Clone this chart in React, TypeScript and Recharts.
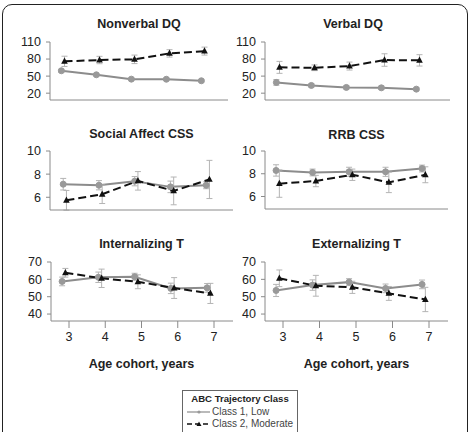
import React from 'react';
import { ComposedChart, Line, XAxis, YAxis, ErrorBar } from 'recharts';

const FONT = '"Liberation Sans", Arial, Helvetica, sans-serif';

// ---------- data ----------
const ages = [3, 4, 5, 6, 7];

const nonverbalLow = [59.4, 52.3, 44.7, 44.5, 41.8];
const nonverbalLowErr = [2.5, 2, 2, 2, 2];
const nonverbalMod = [76, 78.3, 79.5, 90, 94];
const nonverbalModErr = [9, 6.5, 7.5, 6.5, 7];

const verbalLow = [38.9, 33.6, 30.1, 29.4, 27.1];
const verbalLowErr = [5, 3, 3, 3, 2.5];
const verbalMod = [65.4, 64.7, 67.7, 78.3, 77.7];
const verbalModErr = [10.5, 5, 7, 11, 10];

const socialLow = [7.13, 7.04, 7.39, 6.9, 7.04];
const socialLowErr = [0.5, 0.4, 0.4, 0.5, 0.3];
const socialMod = [5.74, 6.26, 7.42, 6.55, 7.54];
const socialModErr = [0.85, 0.8, 0.8, 1.2, 1.65];

const rrbLow = [8.29, 8.11, 8.17, 8.17, 8.46];
const rrbLowErr = [0.5, 0.3, 0.4, 0.4, 0.3];
const rrbMod = [7.13, 7.36, 7.91, 7.24, 7.91];
const rrbModErr = [1.2, 0.5, 0.5, 0.9, 0.7];

const internLow = [58.8, 61.2, 61.5, 54.8, 55.1];
const internLowErr = [2.5, 3, 2, 3, 2.5];
const internMod = [63.8, 60.6, 58.6, 55, 51.9];
const internModErr = [2.5, 5.3, 4, 6, 5.8];

const externLow = [53.6, 56.7, 58.4, 54.8, 57.1];
const externLowErr = [3.5, 3, 2, 2.5, 2.5];
const externMod = [60.6, 56.3, 55.4, 51.9, 48.4];
const externModErr = [4.8, 6, 3.5, 4, 7];

const dqTicks = [20, 50, 80, 110];
const cssTicks = [6, 8, 10];
const tTicks = [40, 50, 60, 70];

const titles = ['Nonverbal DQ', 'Verbal DQ', 'Social Affect CSS', 'RRB CSS', 'Internalizing T', 'Externalizing T'];
const xTitle = 'Age cohort, years';
const legendTitle = 'ABC Trajectory Class';
const legendLow = 'Class 1, Low';
const legendMod = 'Class 2, Moderate';

// ---------- styling / layout ----------
const LOW_COLOR = '#8c8c8c';
const MOD_COLOR = '#111111';
const ERR_COLOR = '#b4b4b4';
const AXIS_COLOR = '#8a8a8a';
const TEXT_COLOR = '#222222';
const LOW_SHIFT = 0.19;
const MOD_SHIFT = 0.1;

type PanelDef = {
  title: string;
  low: number[]; lowErr: number[]; mod: number[]; modErr: number[];
  yDomain: [number, number]; yTicks: number[];
  axisX: number; t3: number; t7: number; endX: number; top: number; bottom: number;
  titleX: number; titleY: number; showXLabels: boolean;
};

const panels: PanelDef[] = [
  { title: titles[0], low: nonverbalLow, lowErr: nonverbalLowErr, mod: nonverbalMod, modErr: nonverbalModErr,
    yDomain: [8, 110], yTicks: dqTicks, axisX: 50, t3: 68, t7: 208, endX: 228, top: 42, bottom: 100,
    titleX: 139, titleY: 24, showXLabels: false },
  { title: titles[1], low: verbalLow, lowErr: verbalLowErr, mod: verbalMod, modErr: verbalModErr,
    yDomain: [8, 110], yTicks: dqTicks, axisX: 265, t3: 283, t7: 423, endX: 450, top: 42, bottom: 100,
    titleX: 353, titleY: 24, showXLabels: false },
  { title: titles[2], low: socialLow, lowErr: socialLowErr, mod: socialMod, modErr: socialModErr,
    yDomain: [4.9, 10], yTicks: cssTicks, axisX: 50, t3: 70, t7: 213, endX: 233, top: 151, bottom: 210,
    titleX: 141.5, titleY: 134, showXLabels: false },
  { title: titles[3], low: rrbLow, lowErr: rrbLowErr, mod: rrbMod, modErr: rrbModErr,
    yDomain: [4.9, 10], yTicks: cssTicks, axisX: 265, t3: 283, t7: 429, endX: 448, top: 151, bottom: 209,
    titleX: 356.5, titleY: 135, showXLabels: false },
  { title: titles[4], low: internLow, lowErr: internLowErr, mod: internMod, modErr: internModErr,
    yDomain: [36, 70], yTicks: tTicks, axisX: 51, t3: 69, t7: 214, endX: 233, top: 262, bottom: 321,
    titleX: 141.5, titleY: 244, showXLabels: true },
  { title: titles[5], low: externLow, lowErr: externLowErr, mod: externMod, modErr: externModErr,
    yDomain: [36, 70], yTicks: tTicks, axisX: 265, t3: 283, t7: 429, endX: 448, top: 262, bottom: 321,
    titleX: 356.5, titleY: 244, showXLabels: true },
];

const Triangle = (props: any) => {
  const { cx, cy, index } = props;
  if (cx == null || cy == null) return <g key={`t${index}`} />;
  return (
    <polygon
      key={`t${index}`}
      points={`${cx},${cy - 3.8} ${cx - 3.3},${cy + 2.4} ${cx + 3.3},${cy + 2.4}`}
      fill={MOD_COLOR}
    />
  );
};

function Panel({ p }: { p: PanelDef }) {
  const s = (p.t7 - p.t3) / 4;
  const xMin = 3 - (p.t3 - p.axisX) / s;
  const xMax = 7 + (p.endX - p.t7) / s;
  const YW = 45, MT = 8, MR = 6, XH = 30;
  const width = YW + (p.endX - p.axisX) + MR;
  const height = MT + (p.bottom - p.top) + XH;
  const rows = ages.map((age, i) => ({
    age, low: p.low[i], lowErr: p.lowErr[i], mod: p.mod[i], modErr: p.modErr[i],
  }));
  const tickStyle = { fill: TEXT_COLOR, fontSize: 12.5, fontFamily: FONT };
  return (
    <>
      <div style={{ position: 'absolute', left: p.axisX - YW, top: p.top - MT }}>
        <ComposedChart width={width} height={height} data={rows}
          margin={{ top: MT, right: MR, left: 0, bottom: 0 }}>
          <XAxis xAxisId="a_main" dataKey="age" type="number" domain={[xMin, xMax]} ticks={ages}
            allowDataOverflow interval={0} tickSize={7} tickMargin={4} height={XH}
            stroke={AXIS_COLOR} tick={p.showXLabels ? tickStyle : false} />
          <XAxis xAxisId="b_low" orientation="top" height={0} dataKey="age" type="number"
            domain={[xMin + LOW_SHIFT, xMax + LOW_SHIFT]} allowDataOverflow hide />
          <XAxis xAxisId="c_mod" orientation="top" height={0} dataKey="age" type="number"
            domain={[xMin + MOD_SHIFT, xMax + MOD_SHIFT]} allowDataOverflow hide />
          <YAxis type="number" domain={p.yDomain} ticks={p.yTicks} allowDataOverflow interval={0}
            width={YW} tickSize={4} tickMargin={5} stroke={AXIS_COLOR} tick={tickStyle} />
          <Line xAxisId="b_low" dataKey="low" stroke={LOW_COLOR} strokeWidth={2}
            dot={{ r: 3, fill: '#999999', stroke: '#999999', strokeWidth: 1 }} activeDot={false}
            isAnimationActive={false}>
            <ErrorBar dataKey="lowErr" direction="y" width={3} stroke={ERR_COLOR} strokeWidth={1} />
          </Line>
          <Line xAxisId="c_mod" dataKey="mod" stroke={MOD_COLOR} strokeWidth={2} strokeDasharray="8 4"
            dot={Triangle} activeDot={false} isAnimationActive={false}>
            <ErrorBar dataKey="modErr" direction="y" width={3} stroke={ERR_COLOR} strokeWidth={1} />
          </Line>
        </ComposedChart>
      </div>
      <div style={{
        position: 'absolute', left: p.titleX, top: p.titleY - 7, transform: 'translateX(-50%)',
        fontSize: 12.5, fontWeight: 'bold', lineHeight: '14px', color: TEXT_COLOR, whiteSpace: 'nowrap',
      }}>{p.title}</div>
    </>
  );
}

export default function App() {
  return (
    <div style={{
      position: 'absolute', left: 0, top: 0, width: 469, height: 432, overflow: 'hidden',
      background: '#ffffff', fontFamily: FONT,
    }}>
      <div style={{
        position: 'absolute', left: 2, top: 4, width: 466, height: 450, boxSizing: 'border-box',
        border: '1.5px solid #222', borderRadius: 10,
      }} />
      {panels.map((p) => <Panel key={p.title} p={p} />)}
      {[141.5, 356.5].map((cx) => (
        <div key={cx} style={{
          position: 'absolute', left: cx, top: 356, transform: 'translateX(-50%)', fontSize: 12.5,
          fontWeight: 'bold', lineHeight: '16px', color: TEXT_COLOR, whiteSpace: 'nowrap',
        }}>{xTitle}</div>
      ))}
      <div style={{
        position: 'absolute', left: 182, top: 390, width: 116, height: 50, boxSizing: 'border-box',
        border: '1px solid #666', background: '#fff',
      }}>
        <div style={{
          position: 'absolute', left: 0, width: 114, top: 2, textAlign: 'center', fontSize: 9.6,
          fontWeight: 'bold', lineHeight: '12px', color: TEXT_COLOR, whiteSpace: 'nowrap',
        }}>{legendTitle}</div>
        <svg style={{ position: 'absolute', left: 4, top: 15 }} width={24} height={12}>
          <line x1={0} y1={6} x2={23} y2={6} stroke={LOW_COLOR} strokeWidth={1.2} />
          <circle cx={12} cy={6} r={1.6} fill="#999" />
        </svg>
        <div style={{
          position: 'absolute', left: 29, top: 15, fontSize: 10, lineHeight: '12px', color: '#444',
          whiteSpace: 'nowrap',
        }}>{legendLow}</div>
        <svg style={{ position: 'absolute', left: 4, top: 27 }} width={24} height={12}>
          <line x1={0} y1={6} x2={23} y2={6} stroke={MOD_COLOR} strokeWidth={1.4} strokeDasharray="5 3" />
          <polygon points="12,3.5 9.5,8 14.5,8" fill={MOD_COLOR} />
        </svg>
        <div style={{
          position: 'absolute', left: 29, top: 27, fontSize: 10, lineHeight: '12px', color: '#444',
          whiteSpace: 'nowrap',
        }}>{legendMod}</div>
      </div>
    </div>
  );
}
